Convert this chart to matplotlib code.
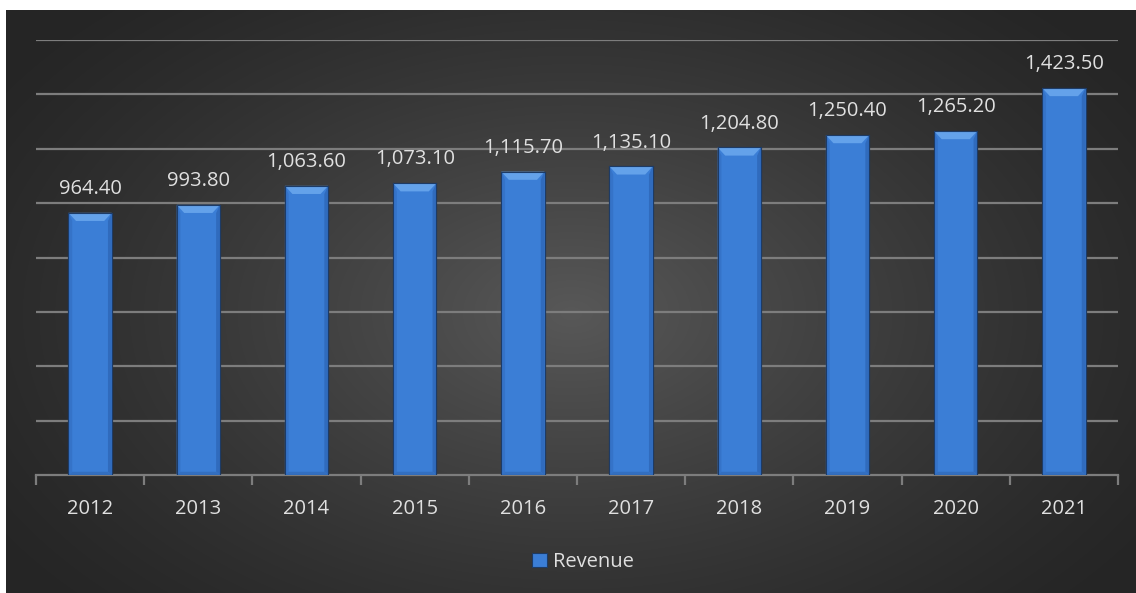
import numpy as np
import matplotlib.pyplot as plt
from matplotlib.patches import Polygon, Rectangle

plt.rcParams['font.family'] = ['Open Sans', 'DejaVu Sans']

years = ['2012', '2013', '2014', '2015', '2016', '2017', '2018', '2019', '2020', '2021']
revenue = [964.40, 993.80, 1063.60, 1073.10, 1115.70, 1135.10, 1204.80, 1250.40, 1265.20, 1423.50]

text_col = '#e0e0e0'
grid_col = '#7d7d7d'
bar_col = '#3b7ed6'

fig = plt.figure(figsize=(11.36, 5.93), dpi=100)
fig.patch.set_facecolor('white')

# dark panel with a soft radial glow in the middle
bg = fig.add_axes([6 / 1136, 0, 1130 / 1136, 583 / 593])
h, w = 583, 1130
yy, xx = np.mgrid[0:h, 0:w]
d = np.sqrt(((xx - w * 0.5) / (w * 0.62)) ** 2 + ((yy - h * 0.52) / (h * 0.75)) ** 2)
d = np.clip(d, 0, 1)
lo, hi = 0x25 / 255, 0x58 / 255
shade = lo + (hi - lo) * (1 - d) ** 1.3
bg.imshow(np.dstack([shade, shade, shade]), aspect='auto', interpolation='bilinear')
bg.axis('off')

ax = fig.add_axes([36 / 1136, 1 - 475 / 593, 1082 / 1136, 435 / 593])
ax.set_facecolor('none')
x = np.arange(len(years))
width = 0.40
bars = ax.bar(x, revenue, width=width, color=bar_col, edgecolor='#1d3b66',
              linewidth=0.8, zorder=3, label='Revenue')

ax.set_xlim(-0.5, len(years) - 0.5)
ax.set_ylim(0, 1600)

# bevelled look on each bar
bx = 0.07
by = 30
for xi, v in zip(x, revenue):
    l, r = xi - width / 2, xi + width / 2
    ax.add_patch(Polygon([[l, v], [l + bx * 0.5, v - by], [l + bx * 0.5, by * 0.4], [l, 0]],
                         closed=True, facecolor='#3573c8', edgecolor='none', zorder=4))
    ax.add_patch(Polygon([[r, v], [r - bx * 0.5, v - by], [r - bx * 0.5, by * 0.4], [r, 0]],
                         closed=True, facecolor='#306bbd', edgecolor='none', zorder=4))
    ax.add_patch(Polygon([[l, 0], [r, 0], [r - bx * 0.5, by * 0.4], [l + bx * 0.5, by * 0.4]],
                         closed=True, facecolor='#336fc0', edgecolor='none', zorder=4))
    ax.add_patch(Polygon([[l, v], [r, v], [r - bx, v - by], [l + bx, v - by]],
                         closed=True, facecolor='#64a2ea', edgecolor='none', zorder=4))
    ax.add_patch(Rectangle((l, 0), width, v, facecolor='none', edgecolor='#1d3b66',
                           linewidth=0.8, zorder=5))
    ax.annotate(f'{v:,.2f}', (xi, v), xytext=(0, 10), textcoords='offset points',
                ha='center', va='bottom', color=text_col, fontsize=14.5)

ax.set_yticks(np.arange(200, 1601, 200))
ax.yaxis.grid(True, color=grid_col, linewidth=1.6)
ax.set_axisbelow(True)
ax.tick_params(axis='y', left=False, labelleft=False)
for s in ['top', 'right', 'left']:
    ax.spines[s].set_visible(False)
ax.spines['bottom'].set_color(grid_col)
ax.spines['bottom'].set_linewidth(1.6)

ax.set_xticks(x)
ax.set_xticklabels(years, color=text_col, fontsize=14.5)
ax.tick_params(axis='x', which='major', length=0, pad=17)
ax.set_xticks(np.arange(-0.5, len(years), 1), minor=True)
ax.tick_params(axis='x', which='minor', length=7, width=1.6, color=grid_col, direction='out')

leg = fig.legend(handles=[bars], labels=['Revenue'], loc='center',
                 bbox_to_anchor=(583 / 1136, 1 - 562 / 593), frameon=False,
                 handlelength=0.75, handleheight=0.75, handletextpad=0.3,
                 fontsize=14.5, labelcolor=text_col)

fig.savefig('out.png', dpi=100, facecolor=fig.get_facecolor())
